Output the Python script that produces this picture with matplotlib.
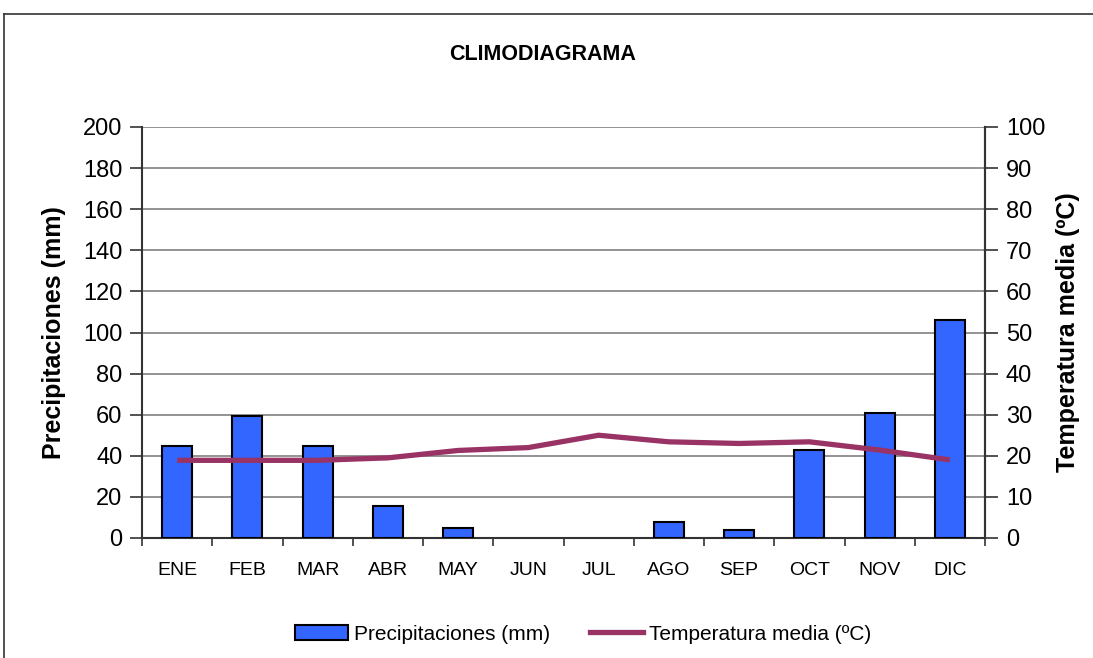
import matplotlib
matplotlib.use("Agg")
import matplotlib.pyplot as plt
from matplotlib.lines import Line2D
from matplotlib.patches import Patch

plt.rcParams['font.family'] = ['Liberation Sans', 'DejaVu Sans']

months = ["ENE", "FEB", "MAR", "ABR", "MAY", "JUN", "JUL", "AGO", "SEP", "OCT", "NOV", "DIC"]
precip = [45, 59.5, 45, 15.5, 4.7, 0, 0, 8, 4, 43, 61, 106]
temp = [18.9, 18.9, 18.9, 19.5, 21.3, 22.0, 25.0, 23.4, 23.0, 23.4, 21.4, 19.0]
left_ticks = list(range(0, 201, 20))
right_ticks = list(range(0, 101, 10))

W, H = 1093, 658
fig = plt.figure(figsize=(W / 100, H / 100), dpi=100)

# outer chart border (top and left edges visible)
fig.add_artist(Line2D([4 / W, 1.02], [1 - 14 / H, 1 - 14 / H], color='#333333', lw=1.2))
fig.add_artist(Line2D([4 / W, 4 / W], [-0.02, 1 - 14 / H], color='#333333', lw=1.2))

ax = fig.add_axes([142 / W, 1 - 538 / H, (985 - 142) / W, (538 - 127) / H])
x = list(range(len(months)))
edge_w = [1.5 if v > 0 else 0 for v in precip]
ax.bar(x, precip, width=0.43, color='#3366FF', edgecolor='black', linewidth=edge_w, zorder=3)
ax.set_xlim(-0.5, 11.5)
ax.set_ylim(0, 200)
ax.set_yticks(left_ticks)
ax.set_yticklabels([str(v) for v in left_ticks], fontsize=17)
ax.yaxis.grid(True, color='#808080', lw=1.2, zorder=0)
ax.set_axisbelow(True)
ax.set_xticks(x)
ax.set_xticklabels(months, fontsize=14)
ax.set_xticks([i + 0.5 for i in range(-1, 12)], minor=True)
ax.tick_params(axis='x', which='major', length=0, pad=17)
ax.tick_params(axis='x', which='minor', length=6, width=1.2, color='#333333', direction='out')
ax.tick_params(axis='y', length=9, width=1.2, color='#333333', direction='out', pad=5)
for s in ['left', 'bottom', 'right']:
    ax.spines[s].set_color('#333333')
    ax.spines[s].set_linewidth(1.5)
ax.spines['top'].set_visible(False)
ax.set_ylabel("Precipitaciones (mm)", fontsize=18, fontweight='bold', labelpad=12)

ax2 = ax.twinx()
ax2.plot(x, temp, color='#993366', lw=3.8, solid_capstyle='butt', zorder=4)
ax2.set_ylim(0, 100)
ax2.set_yticks(right_ticks)
ax2.set_yticklabels([str(v) for v in right_ticks], fontsize=17)
ax2.tick_params(axis='y', length=9, width=1.2, color='#333333', direction='out', pad=6)
for s in ['top', 'left', 'bottom']:
    ax2.spines[s].set_visible(False)
ax2.spines['right'].set_color('#333333')
ax2.spines['right'].set_linewidth(1.5)
ax2.set_ylabel("Temperatura media (ºC)", fontsize=18, fontweight='bold', labelpad=8)

fig.text(543 / W, 1 - 54 / H, "CLIMODIAGRAMA", ha='center', va='center', fontsize=15.5, fontweight='bold')

handles = [Patch(facecolor='#3366FF', edgecolor='black', linewidth=1.5),
           Line2D([0], [0], color='#993366', lw=3.8)]
fig.legend(handles, ["Precipitaciones (mm)", "Temperatura media (ºC)"],
           loc='center', bbox_to_anchor=(583 / W, 1 - 634 / H), ncol=2, frameon=False,
           fontsize=15, handlelength=2.55, handleheight=0.75, handletextpad=0.3, columnspacing=1.9)

fig.savefig("out.png", dpi=100)
